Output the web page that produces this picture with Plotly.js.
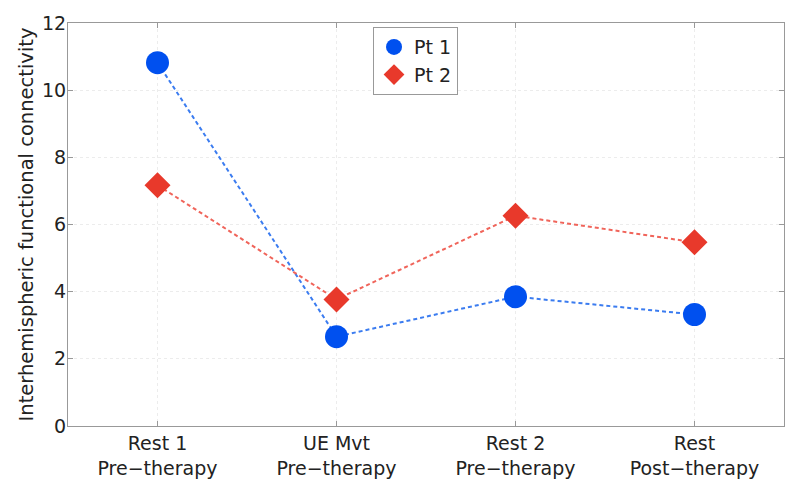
<!DOCTYPE html>
<html>
<head>
<meta charset="utf-8">
<script src="https://cdn.plot.ly/plotly-3.0.1.min.js"></script>
<style>html,body{margin:0;padding:0;background:#fff;}#chart{width:800px;height:496px;}</style>
</head>
<body>
<div id="chart"></div>
<script>
const categories = ["Rest 1<br>Pre\u2212therapy", "UE Mvt<br>Pre\u2212therapy", "Rest 2<br>Pre\u2212therapy", "Rest<br>Post\u2212therapy"];
const seriesNames = ["Pt 1", "Pt 2"];
const pt1Values = [10.82, 2.66, 3.85, 3.32];
const pt2Values = [7.17, 3.77, 6.26, 5.47];
const yTicks = [0, 2, 4, 6, 8, 10, 12];

const blueMarker = {symbol: "circle", size: 23, color: "#0050ef"};
const redMarker = {symbol: "diamond", size: 20, color: "#e8392b"};

const traces = [
  {
    x: categories, y: pt1Values, name: seriesNames[0], type: "scatter", mode: "lines+markers",
    showlegend: false,
    line: {color: "#3b7cf0", width: 2, dash: "4px,3px"},
    marker: blueMarker
  },
  {
    x: categories, y: pt2Values, name: seriesNames[1], type: "scatter", mode: "lines+markers",
    showlegend: false,
    line: {color: "#f0645a", width: 2, dash: "4px,3px"},
    marker: redMarker
  },
  // legend entries (marker only, as in the reference legend)
  {x: [null], y: [null], name: seriesNames[0], type: "scatter", mode: "markers", marker: blueMarker},
  {x: [null], y: [null], name: seriesNames[1], type: "scatter", mode: "markers", marker: redMarker}
];

const layout = {
  width: 800, height: 496,
  margin: {l: 68, r: 16, t: 23, b: 70},
  paper_bgcolor: "#fff", plot_bgcolor: "#fff",
  font: {family: "DejaVu Sans, sans-serif", color: "#222", size: 19},
  showlegend: true,
  legend: {
    x: 0.426, y: 0.99, xanchor: "left", yanchor: "top",
    bordercolor: "#999", borderwidth: 1, bgcolor: "#fff",
    font: {size: 19}, itemsizing: "trace", tracegroupgap: 0
  },
  xaxis: {
    type: "category", range: [-0.5, 3.5],
    showline: true, linecolor: "#999", linewidth: 1, mirror: "ticks",
    ticks: "inside", ticklen: 5, tickcolor: "#999",
    showgrid: true, gridcolor: "#ececec", griddash: "dot",
    tickfont: {size: 19}, zeroline: false
  },
  yaxis: {
    range: [0, 12], tickvals: yTicks,
    showline: true, linecolor: "#999", linewidth: 1, mirror: "ticks",
    ticks: "inside", ticklen: 5, tickcolor: "#999",
    showgrid: true, gridcolor: "#ececec", griddash: "dot",
    tickfont: {size: 19}, zeroline: false, ticklabelstandoff: -3,
    title: {text: "Interhemispheric functional connectivity", font: {size: 19.5}, standoff: 3}
  }
};

Plotly.newPlot("chart", traces, layout, {displayModeBar: false, staticPlot: true});
</script>
</body>
</html>
